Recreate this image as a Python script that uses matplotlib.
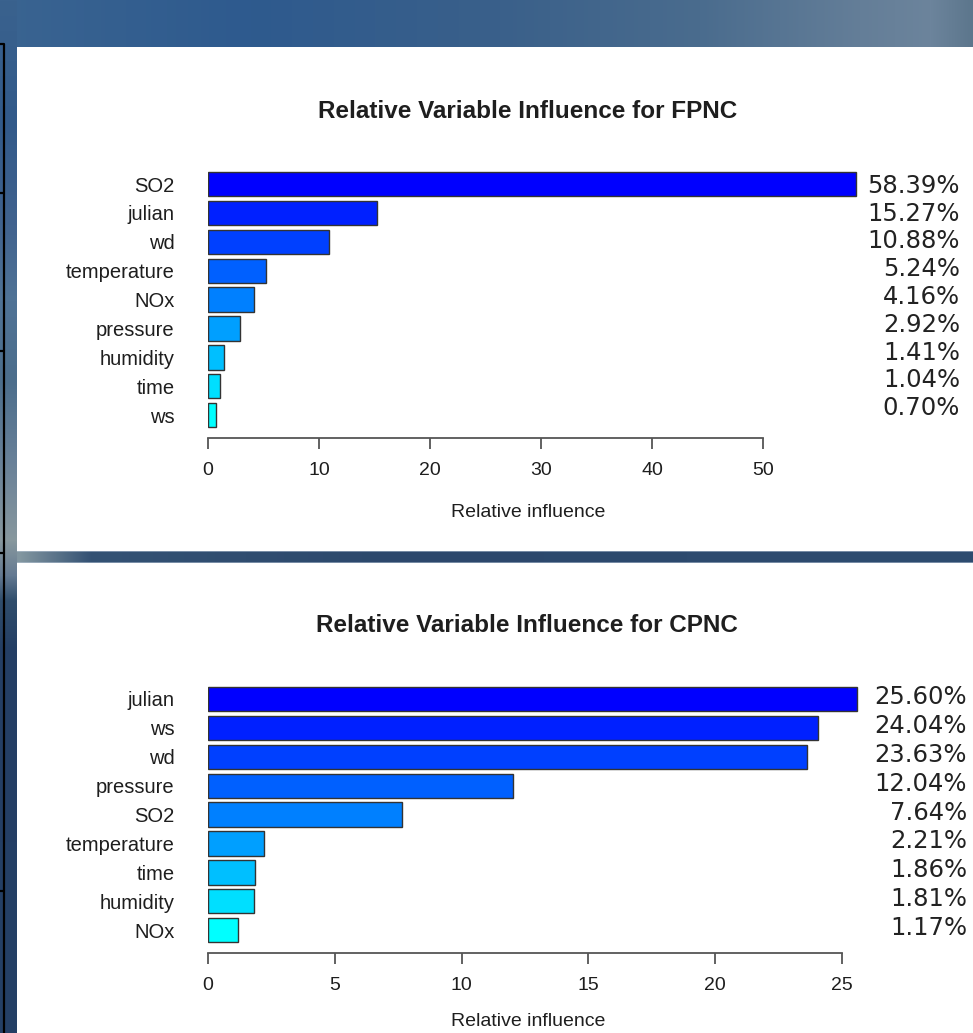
import numpy as np
import matplotlib
matplotlib.use("Agg")
import matplotlib.pyplot as plt
from matplotlib.patches import Rectangle

# ---- data -------------------------------------------------------------
fpnc_vars = ["SO2", "julian", "wd", "temperature", "NOx", "pressure",
             "humidity", "time", "ws"]
fpnc_influence = [58.39, 15.27, 10.88, 5.24, 4.16, 2.92, 1.41, 1.04, 0.70]
fpnc_ticks = [0, 10, 20, 30, 40, 50]

cpnc_vars = ["julian", "ws", "wd", "pressure", "SO2", "temperature",
             "time", "humidity", "NOx"]
cpnc_influence = [25.60, 24.04, 23.63, 12.04, 7.64, 2.21, 1.86, 1.81, 1.17]
cpnc_ticks = [0, 5, 10, 15, 20, 25]

# ---- figure -----------------------------------------------------------
W, H = 973, 1033
DPI = 100
fig = plt.figure(figsize=(W / DPI, H / DPI), dpi=DPI)


def interp_rgb(pos, stops):
    xs = [s[0] for s in stops]
    out = np.zeros((len(pos), 3))
    for c in range(3):
        out[:, c] = np.interp(pos, xs, [s[1][c] for s in stops])
    return out / 255.0


# slide background
bg = fig.add_axes([0, 0, 1, 1], zorder=0)
bg.set_xlim(0, W)
bg.set_ylim(H, 0)
bg.axis("off")

xs = np.arange(W)
ys = np.arange(H)
top_band = interp_rgb(xs, [(0, (58, 100, 145)), (250, (46, 90, 142)),
                           (500, (58, 96, 138)), (700, (74, 108, 142)),
                           (860, (100, 126, 152)), (930, (108, 132, 156)),
                           (973, (92, 118, 140))])
img = np.tile(top_band[None, :, :], (H, 1, 1))
left_strip = interp_rgb(ys, [(0, (58, 98, 142)), (120, (50, 90, 138)),
                             (220, (64, 98, 142)), (300, (80, 115, 150)),
                             (380, (76, 110, 140)), (460, (104, 128, 152)),
                             (540, (136, 152, 158)), (575, (100, 122, 146)),
                             (600, (48, 78, 108)), (650, (36, 62, 100)),
                             (1033, (36, 64, 102))])
img[:, :17, :] = left_strip[:, None, :]
mid_band = interp_rgb(xs, [(0, (130, 150, 160)), (20, (130, 150, 160)),
                           (90, (52, 82, 116)), (400, (44, 72, 108)),
                           (973, (46, 76, 112))])
img[551:563, 17:, :] = mid_band[None, 17:, :]
img[551, 17:, :] = mid_band[17:, :] * 0.5 + 0.5 * np.array([0.75, 0.8, 0.86])
img[562, 17:, :] = mid_band[17:, :] * 0.5 + 0.5 * np.array([0.75, 0.8, 0.86])
bg.imshow(img, extent=(0, W, H, 0), aspect="auto", interpolation="bilinear")

# white panels
bg.add_patch(Rectangle((17, 47), W - 17, 504, facecolor="white",
                       edgecolor="none"))
bg.add_patch(Rectangle((17, 563), W - 17, H - 563, facecolor="white",
                       edgecolor="none"))

# black frame line on the left edge
bg.plot([0, 3.5, 3.5], [44, 44, H], color="black", lw=1.6,
        solid_capstyle="butt")
for yy in [193, 351, 553, 891]:
    bg.plot([0, 3.5], [yy, yy], color="black", lw=1.6,
            solid_capstyle="butt")


def hsv_ramp(n):
    # R-style rainbow from cyan (hue 0.5) to blue (hue 0.667), top bar blue
    cols = []
    for i in range(n):
        h = 0.5 + (1 / 6) * i / (n - 1)
        cols.append(matplotlib.colors.hsv_to_rgb((h, 1, 1)))
    return cols[::-1]


LABEL_FONT = ["Liberation Sans", "DejaVu Sans"]
TXT = "#1e1e1e"
AXC = "#555555"


def draw_panel(names, vals, ticks, scale, y_first, title_y, title_x,
               pct_right, pct_y0, pct_step, title, xlabel_pad):
    n = len(vals)
    step = 28.9
    ax_left_px, ax_right_px = 208, 870
    top_px = y_first - step * 0.5
    bot_px = y_first + step * (n - 1) + step * 0.5
    ax = fig.add_axes([ax_left_px / W, 1 - bot_px / H,
                       (ax_right_px - ax_left_px) / W, (bot_px - top_px) / H],
                      zorder=2)
    ax.patch.set_alpha(0)
    ypos = np.arange(n)
    ax.barh(ypos, vals, height=0.84, color=hsv_ramp(n),
            edgecolor="#333333", linewidth=1.0, zorder=3)
    ax.set_xlim(0, (ax_right_px - ax_left_px) / scale)
    ax.set_ylim(n - 0.5, -0.5)

    for s in ["top", "right", "left"]:
        ax.spines[s].set_visible(False)
    ax.spines["bottom"].set_position(("outward", 6.0))
    ax.spines["bottom"].set_bounds(ticks[0], ticks[-1])
    ax.spines["bottom"].set_color(AXC)
    ax.spines["bottom"].set_linewidth(1.3)

    ax.set_xticks(ticks)
    ax.set_xticklabels([str(t) for t in ticks], fontfamily=LABEL_FONT,
                       fontsize=14, color=TXT)
    ax.tick_params(axis="x", length=8, width=1.3, color=AXC, pad=9)
    ax.set_yticks(ypos)
    ax.set_yticklabels(names, fontfamily=LABEL_FONT, fontsize=14.5,
                       color=TXT)
    ax.tick_params(axis="y", length=0, pad=24)
    ax.set_xlabel("Relative influence", fontfamily=LABEL_FONT,
                  fontsize=14, color=TXT, labelpad=xlabel_pad)
    # centre the axis title under the drawn axis rather than the full axes
    ax.xaxis.label.set_x((528 - ax_left_px) / (ax_right_px - ax_left_px))

    fig.text(title_x / W, 1 - title_y / H, title, ha="center", va="center",
             fontfamily=LABEL_FONT, fontweight="bold", fontsize=17.5,
             color=TXT)

    # percentage labels to the right of the bars
    for i, v in enumerate(vals):
        fig.text(pct_right / W, 1 - (pct_y0 + pct_step * i) / H,
                 f"{v:.2f}%", ha="right", va="center",
                 fontfamily=["DejaVu Sans"], fontsize=17.5, color="#222222")
    return ax


draw_panel(fpnc_vars, fpnc_influence, fpnc_ticks, (763 - 208) / 50,
           184, 111, 528, 960, 186, 27.75,
           "Relative Variable Influence for FPNC", 18)
draw_panel(cpnc_vars, cpnc_influence, cpnc_ticks, (842 - 208) / 25,
           699, 626, 527, 967, 697, 28.9,
           "Relative Variable Influence for CPNC", 14)

fig.savefig("out.png", dpi=DPI)
